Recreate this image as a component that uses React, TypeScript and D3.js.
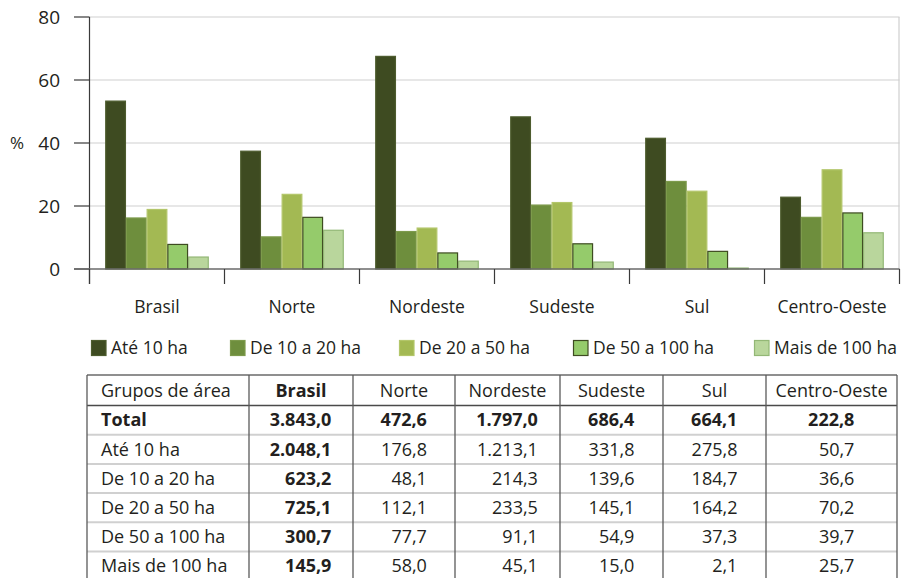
import React from "react";
import * as d3 from "d3";

// Regions (chart categories and table columns)
const regions = ["Brasil", "Norte", "Nordeste", "Sudeste", "Sul", "Centro-Oeste"];
// Farm-size groups (chart series)
const groups = ["Até 10 ha", "De 10 a 20 ha", "De 20 a 50 ha", "De 50 a 100 ha", "Mais de 100 ha"];

// Share of establishments (%) in each size group, by region
const ate10 = [53.3, 37.4, 67.5, 48.3, 41.5, 22.8];
const de10a20 = [16.2, 10.2, 11.9, 20.3, 27.8, 16.4];
const de20a50 = [18.9, 23.7, 13.0, 21.1, 24.7, 31.5];
const de50a100 = [7.8, 16.4, 5.1, 8.0, 5.6, 17.8];
const mais100 = [3.8, 12.3, 2.5, 2.2, 0.3, 11.5];
const seriesValues = [ate10, de10a20, de20a50, de50a100, mais100];

const yTicks = [0, 20, 40, 60, 80];

// Table (thousand establishments)
const tableHeader = "Grupos de área";
const tableRowLabels = ["Total", ...groups];
const rowTotal = ["3.843,0", "472,6", "1.797,0", "686,4", "664,1", "222,8"];
const rowAte10 = ["2.048,1", "176,8", "1.213,1", "331,8", "275,8", "50,7"];
const rowDe10a20 = ["623,2", "48,1", "214,3", "139,6", "184,7", "36,6"];
const rowDe20a50 = ["725,1", "112,1", "233,5", "145,1", "164,2", "70,2"];
const rowDe50a100 = ["300,7", "77,7", "91,1", "54,9", "37,3", "39,7"];
const rowMais100 = ["145,9", "58,0", "45,1", "15,0", "2,1", "25,7"];
const tableRows = [rowTotal, rowAte10, rowDe10a20, rowDe20a50, rowDe50a100, rowMais100];

const fills = ["#3e4b21", "#6e8e3d", "#a3b953", "#95cb6b", "#b9d69c"];
const strokes = ["#4d5c2e", "#7d9a4c", "#b3c66a", "#3e4b21", "#93b776"];

const FONT = "'Open Sans', 'Noto Sans', sans-serif";
const TEXT = "#231f20";

export default function App() {
  const W = 903;
  const H = 578;
  const left = 89.5;
  const right = 899.5;

  const y = d3.scaleLinear().domain([0, 80]).range([269, 17]);
  const x0 = d3.scaleBand<string>().domain(regions).range([left, right]).padding(0);
  const x1 = d3
    .scaleBand<string>()
    .domain(groups)
    .range([0, x0.bandwidth()])
    .paddingInner(0)
    .paddingOuter(0.76);

  // Table geometry
  const colEdges = [87, 249, 353, 455, 560, 663, 766, 897];
  const tTop = 375;
  const headH = 30.5;
  const rowH = 29.2;
  const rowTop = (i: number) => tTop + headH + i * rowH;
  const fs = 18;
  const digitW = 0.572 * fs;
  const punctW = 0.26 * fs;
  const textW = (s: string) =>
    s.split("").reduce((acc, c) => acc + (c === "." || c === "," ? punctW : digitW), 0);

  const legendX = [91, 230, 399, 573, 754];

  return (
    <div style={{ position: "absolute", left: 0, top: 0 }}>
      <svg width={W} height={H} style={{ display: "block", background: "#fff" }} fontFamily={FONT}>
        {/* gridlines */}
        {yTicks
          .filter((t) => t > 0)
          .map((t) => (
            <line key={"g" + t} x1={left} x2={right} y1={y(t)} y2={y(t)} stroke="#cfcfcf" strokeWidth={1.2} />
          ))}
        <line x1={right - 0.5} x2={right - 0.5} y1={y(80)} y2={y(0)} stroke="#cfcfcf" strokeWidth={1.2} />

        {/* bars */}
        {regions.map((r, ri) => (
          <g key={r} transform={`translate(${x0(r)},0)`}>
            {groups.map((g, gi) => {
              const v = seriesValues[gi][ri];
              return (
                <rect
                  key={g}
                  x={(x1(g) as number) + 0.5}
                  y={y(v)}
                  width={x1.bandwidth() - 1}
                  height={y(0) - y(v)}
                  fill={fills[gi]}
                  stroke={strokes[gi]}
                  strokeWidth={1.2}
                />
              );
            })}
          </g>
        ))}

        {/* y axis */}
        <line x1={left} x2={left} y1={y(80)} y2={284} stroke="#3a3a3a" strokeWidth={1.2} />
        {yTicks.map((t) => (
          <g key={"t" + t}>
            <line x1={74} x2={left} y1={y(t)} y2={y(t)} stroke="#3a3a3a" strokeWidth={1.2} />
            <text x={60} y={y(t)} dy="0.35em" textAnchor="end" fontSize={19} fill={TEXT}>
              {t}
            </text>
          </g>
        ))}
        <text x={17} y={y(40)} dy="0.35em" textAnchor="middle" fontSize={17} fill={TEXT}>
          %
        </text>

        {/* x axis */}
        <line x1={74} x2={right} y1={y(0)} y2={y(0)} stroke="#6a6a6a" strokeWidth={1.6} />
        {[...regions.map((r) => x0(r) as number), right].map((xv, i) => (
          <line key={"xt" + i} x1={xv} x2={xv} y1={y(0)} y2={284} stroke="#3a3a3a" strokeWidth={1.2} />
        ))}
        {regions.map((r) => (
          <text
            key={"xl" + r}
            x={(x0(r) as number) + x0.bandwidth() / 2}
            y={307}
            dy="0.35em"
            textAnchor="middle"
            fontSize={17.5}
            fill={TEXT}
          >
            {r}
          </text>
        ))}

        {/* legend */}
        {groups.map((g, gi) => (
          <g key={"lg" + g} transform={`translate(${legendX[gi]},340)`}>
            <rect x={0.5} y={0.5} width={14.5} height={15} fill={fills[gi]} stroke={strokes[gi]} strokeWidth={1.2} />
            <text x={20} y={8} dy="0.35em" fontSize={17.5} fill={TEXT}>
              {g}
            </text>
          </g>
        ))}

        {/* table */}
        {tableRowLabels.map((_, i) => (
          <line
            key={"rl" + i}
            x1={colEdges[0]}
            x2={colEdges[colEdges.length - 1]}
            y1={rowTop(i + 1)}
            y2={rowTop(i + 1)}
            stroke="#d0d0d0"
            strokeWidth={2}
          />
        ))}
        <line x1={colEdges[0]} x2={colEdges[7]} y1={tTop} y2={tTop} stroke="#6a6a6a" strokeWidth={1.5} />
        <line x1={colEdges[0]} x2={colEdges[7]} y1={rowTop(0)} y2={rowTop(0)} stroke="#4a4a4a" strokeWidth={1.5} />
        {colEdges.map((cx, i) => (
          <line key={"cl" + i} x1={cx} x2={cx} y1={tTop} y2={H} stroke="#5a5a5a" strokeWidth={1.3} />
        ))}

        <text x={101} y={tTop + headH / 2} dy="0.35em" fontSize={fs} fill={TEXT}>
          {tableHeader}
        </text>
        {regions.map((r, ci) => (
          <text
            key={"th" + r}
            x={(colEdges[ci + 1] + colEdges[ci + 2]) / 2}
            y={tTop + headH / 2}
            dy="0.35em"
            textAnchor="middle"
            fontSize={fs}
            fontWeight={ci === 0 ? 700 : 400}
            fill={TEXT}
          >
            {r}
          </text>
        ))}
        {tableRowLabels.map((lab, ri) => (
          <g key={"tr" + lab}>
            <text
              x={101}
              y={rowTop(ri) + rowH / 2}
              dy="0.35em"
              fontSize={fs}
              fontWeight={ri === 0 ? 700 : 400}
              fill={TEXT}
            >
              {lab}
            </text>
            {tableRows[ri].map((val, ci) => {
              const c = (colEdges[ci + 1] + colEdges[ci + 2]) / 2;
              const maxW = d3.max(tableRows, (row) => textW(row[ci])) as number;
              return (
                <text
                  key={"v" + ci}
                  x={c + maxW / 2}
                  y={rowTop(ri) + rowH / 2}
                  dy="0.35em"
                  textAnchor="end"
                  fontSize={fs}
                  fontWeight={ri === 0 || ci === 0 ? 700 : 400}
                  fill={TEXT}
                >
                  {val}
                </text>
              );
            })}
          </g>
        ))}
      </svg>
    </div>
  );
}
